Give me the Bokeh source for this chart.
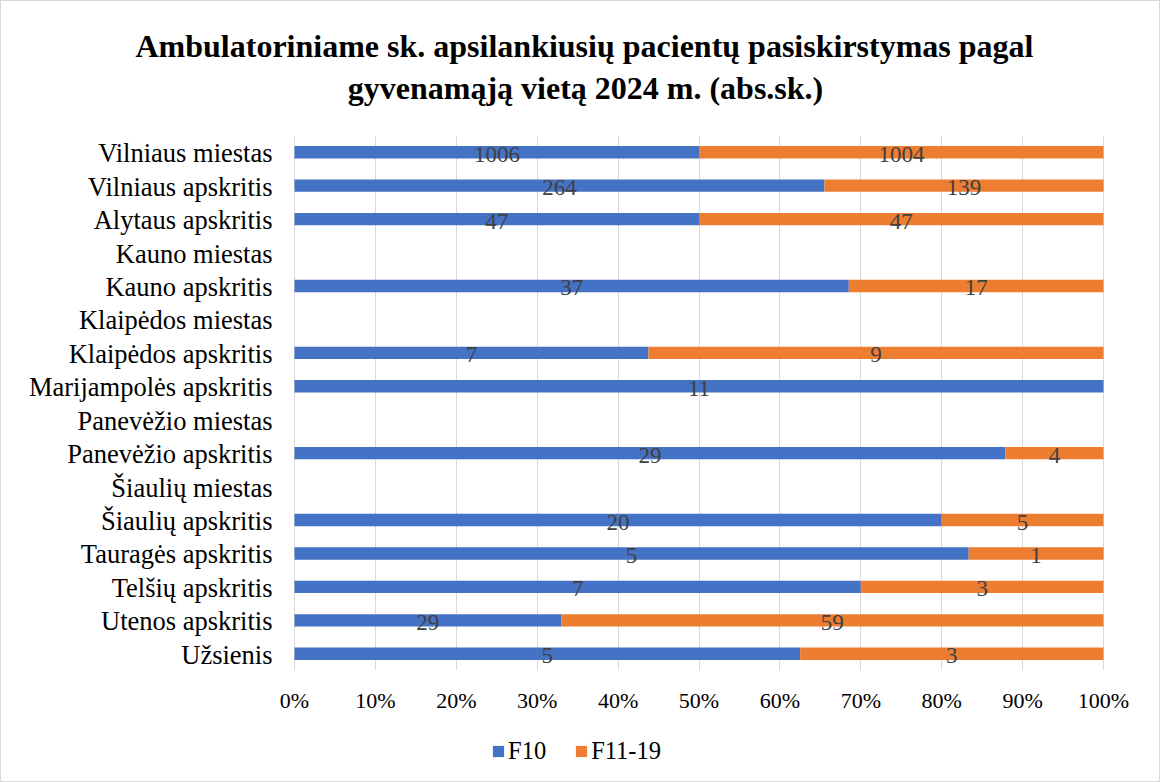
from bokeh.plotting import figure
from bokeh.layouts import column
from bokeh.models import (ColumnDataSource, FactorRange, Range1d, FixedTicker, NumeralTickFormatter,
                          Legend, LegendItem)
from bokeh.core.properties import value
from bokeh.embed import file_html
from bokeh.resources import INLINE

categories = ["Vilniaus miestas", "Vilniaus apskritis", "Alytaus apskritis", "Kauno miestas",
              "Kauno apskritis", "Klaipėdos miestas", "Klaipėdos apskritis", "Marijampolės apskritis",
              "Panevėžio miestas", "Panevėžio apskritis", "Šiaulių miestas", "Šiaulių apskritis",
              "Tauragės apskritis", "Telšių apskritis", "Utenos apskritis", "Užsienis"]
f10 = [1006, 264, 47, 0, 37, 0, 7, 11, 0, 29, 0, 20, 5, 7, 29, 5]
f11_19 = [1004, 139, 47, 0, 17, 0, 9, 0, 0, 4, 0, 5, 1, 3, 59, 3]
series_names = ["F10", "F11-19"]
x_ticks = [0, 0.1, 0.2, 0.3, 0.4, 0.5, 0.6, 0.7, 0.8, 0.9, 1.0]

title_lines = ["Ambulatoriniame sk. apsilankiusių pacientų pasiskirstymas pagal",
               "gyvenamąją vietą 2024 m. (abs.sk.)"]

BLUE = "#4472C4"
ORANGE = "#ED7D31"
SERIF = "Liberation Serif"

# layout (pixels)
W = 1158
HEAD_H = 134          # title strip
FRAME_H = 536         # bar area
AXIS_H = 44           # x tick labels
FOOT_H = 66           # legend strip
PLOT_LEFT, PLOT_RIGHT = 293, 1102    # where 0% and 100% sit
unit = PLOT_RIGHT - PLOT_LEFT

# ---------- header with the two centred title lines ----------
head = figure(width=W, height=HEAD_H, output_backend="svg", toolbar_location=None,
              x_range=Range1d(0, W), y_range=Range1d(HEAD_H, 0),
              x_axis_location=None, y_axis_location=None,
              min_border=0)
head.outline_line_color = None
head.grid.visible = False
head.title = None
head.text(x=[583, 584], y=[44, 86], text=title_lines, text_align="center",
          text_baseline="alphabetic", text_font=value(SERIF), text_font_size="32px",
          text_font_style="bold", text_color="black")

# ---------- main bar chart ----------
tot = [a + b for a, b in zip(f10, f11_19)]
p1 = [a / t if t else 0 for a, t in zip(f10, tot)]
p2 = [b / t if t else 0 for b, t in zip(f11_19, tot)]

src = ColumnDataSource(dict(
    cat=categories,
    l1=[0] * len(categories), r1=p1,
    l2=p1, r2=[a + b for a, b in zip(p1, p2)],
))

lab_x, lab_y, lab_t = [], [], []
for c, a, b, q1, q2 in zip(categories, f10, f11_19, p1, p2):
    if a:
        lab_x.append(q1 / 2); lab_y.append(c); lab_t.append(str(a))
    if b:
        lab_x.append(q1 + q2 / 2); lab_y.append(c); lab_t.append(str(b))
lsrc = ColumnDataSource(dict(x=lab_x, y=lab_y, t=lab_t))
csrc = ColumnDataSource(dict(x=[0] * len(categories), y=categories, t=categories))

p = figure(width=W, height=FRAME_H + AXIS_H, output_backend="svg", toolbar_location=None,
           y_range=FactorRange(factors=categories[::-1], range_padding=0),
           x_range=Range1d(-PLOT_LEFT / unit, 1 + (W - PLOT_RIGHT) / unit),
           min_border_left=0, min_border_right=0, min_border_top=0, min_border_bottom=AXIS_H)
p.outline_line_color = None
p.title = None
p.yaxis.visible = False

r1 = p.hbar(y="cat", left="l1", right="r1", height=0.37, source=src, fill_color=BLUE, line_color=None)
r2 = p.hbar(y="cat", left="l2", right="r2", height=0.37, source=src, fill_color=ORANGE, line_color=None)

p.text(x="x", y="y", text="t", source=lsrc, text_align="center", text_baseline="middle",
       text_font=value(SERIF), text_font_size="23px", text_color="#404040", y_offset=2)

# category labels, right-aligned left of 0%
p.text(x="x", y="y", text="t", source=csrc, text_align="right", text_baseline="middle",
       text_font=value(SERIF), text_font_size="26.5px", text_color="black", x_offset=-22, y_offset=1)

p.xgrid.grid_line_color = "#d9d9d9"
p.xgrid.ticker = FixedTicker(ticks=x_ticks)
p.ygrid.grid_line_color = None

ax = p.xaxis[0]
ax.ticker = FixedTicker(ticks=x_ticks)
ax.formatter = NumeralTickFormatter(format="0%")
ax.axis_line_color = None
ax.major_tick_line_color = None
ax.minor_tick_line_color = None
ax.major_tick_out = 0
ax.major_tick_in = 0
ax.major_label_text_font = SERIF
ax.major_label_text_color = "black"
ax.major_label_text_font_size = "22px"
ax.major_label_standoff = 17

# ---------- footer with the legend ----------
foot = figure(width=W, height=FOOT_H, output_backend="svg", toolbar_location=None,
              x_range=Range1d(0, 1), y_range=Range1d(0, 1),
              x_axis_location=None, y_axis_location=None, min_border=0)
foot.outline_line_color = None
foot.grid.visible = False
foot.title = None
# legend proxies (kept outside the visible range; only their swatches are shown)
g1 = foot.hbar(y=[-5], left=[0], right=[1], height=0.5, fill_color=BLUE, line_color=None)
g2 = foot.hbar(y=[-5], left=[0], right=[1], height=0.5, fill_color=ORANGE, line_color=None)
legend = Legend(items=[LegendItem(label=series_names[0], renderers=[g1]),
                       LegendItem(label=series_names[1], renderers=[g2])],
                orientation="horizontal", location=(490, 16),
                glyph_width=14, glyph_height=14, label_standoff=3, spacing=28,
                padding=0, margin=0, border_line_color=None, background_fill_alpha=0,
                label_text_font=SERIF, label_text_font_size="24.5px", label_text_color="black")
foot.add_layout(legend)

layout = column(head, p, foot, spacing=0, styles={"border": "1px solid #d9d9d9"})

open("out.html", "w").write(file_html(layout, INLINE))
